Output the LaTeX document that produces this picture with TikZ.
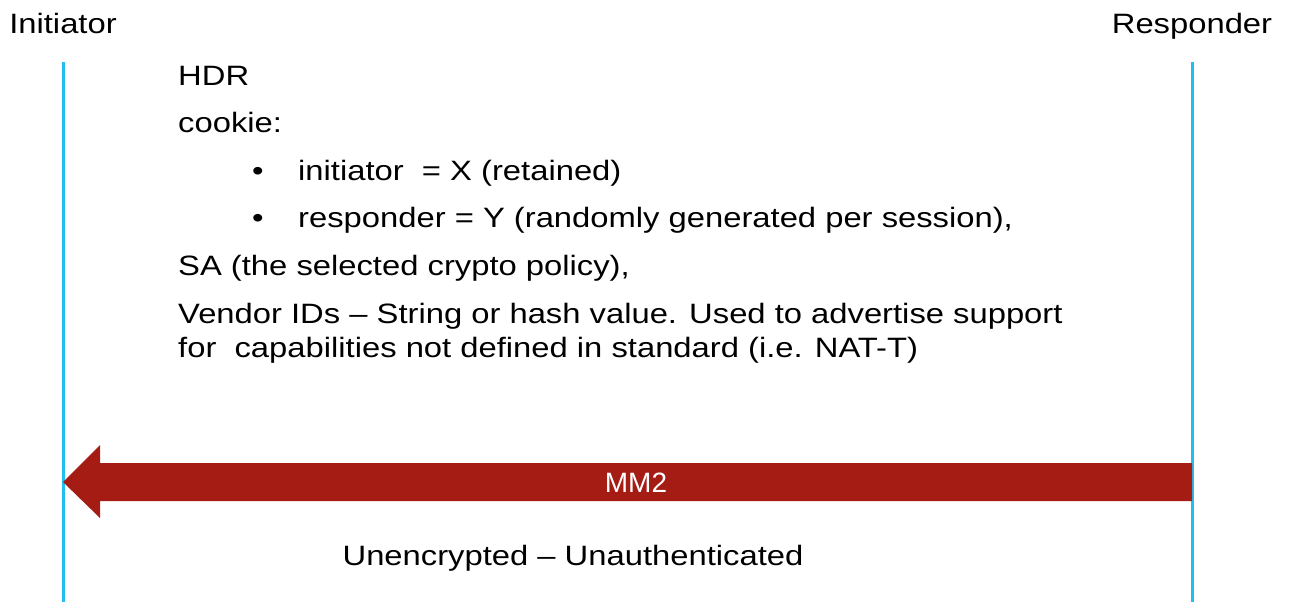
\documentclass[tikz,border=0pt]{standalone}
\usepackage{fontspec}
\setmainfont[FakeStretch=1.17]{Liberation Sans}
\newfontfamily\plainsans{Liberation Sans}
\definecolor{lifeline}{RGB}{35,190,240}
\definecolor{msgred}{RGB}{165,28,20}
\tikzset{
  lbl/.style={inner sep=0pt, font=\fontsize{28}{34}\selectfont, anchor=base west},
  actor/.style={inner sep=0pt, font=\fontsize{28}{34}\selectfont, anchor=base},
  life/.style={draw=lifeline, line width=3pt},
}
\begin{document}
\begin{tikzpicture}[x=1pt,y=-1pt]
\useasboundingbox (0,0) rectangle (1290,602);
% actors
\node[actor] (ini) at (63,34) {Initiator};
\node[actor] (res) at (1192,34) {Responder};
\coordinate (iniTop) at (63,62);
\coordinate (iniBot) at (63,602);
\coordinate (resTop) at (1192,62);
\coordinate (resBot) at (1192,602);
\draw[life] (iniTop) -- (iniBot);
\draw[life] (resTop) -- (resBot);
% message content
\node[lbl] (hdr) at (178,85) {HDR};
\node[lbl] (cookie) at (178,132) {cookie:};
\node[lbl] (b1) at (252,180) {\textbullet};
\node[lbl] (i1) at (298,180) {initiator\ \ = X (retained)};
\node[lbl] (b2) at (252,227) {\textbullet};
\node[lbl] (i2) at (298,227) {responder = Y (randomly generated per session),};
\node[lbl] (sa) at (178,275) {SA (the selected crypto policy),};
\node[lbl] (v1) at (178,323) {Vendor IDs -- String or hash value. Used to advertise support};
\node[lbl] (v2) at (178,357) {for\ \ capabilities not defined in standard (i.e. NAT-T)};
% arrow MM2
\coordinate (tip) at (63,482);
\fill[msgred] (resTop |- 0,463) -- (100,463) -- (100,445) -- (tip) -- (100,518) -- (100,501) -- (resTop |- 0,501) -- cycle;
\node[actor, text=white, font=\plainsans\fontsize{28}{34}\selectfont] (mm2) at (636,492) {MM2};
\node[actor] (enc) at (573,565) {Unencrypted -- Unauthenticated};
\end{tikzpicture}
\end{document}
